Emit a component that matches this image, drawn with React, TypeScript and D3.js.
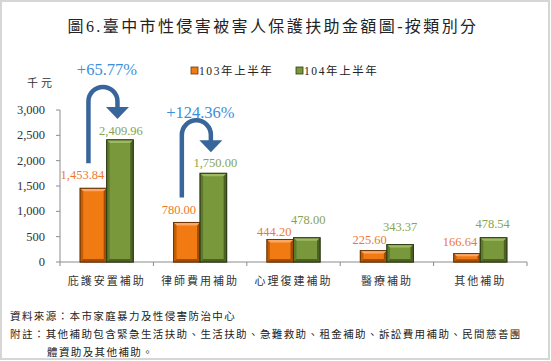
import React from 'react';
import * as d3 from 'd3';

// data
const categories = ['庇護安置補助', '律師費用補助', '心理復建補助', '醫療補助', '其他補助'];
const seriesNames = ['103年上半年', '104年上半年'];
const values103 = [1453.84, 780.0, 444.2, 225.6, 166.64];
const values104 = [2409.96, 1750.0, 478.0, 343.37, 478.54];
const yTicks = [0, 500, 1000, 1500, 2000, 2500, 3000];
// arrows drawn for these category indexes
const arrowCats = [0, 1];

const W = 551;
const H = 361;
const plot = { left: 60, right: 527, top: 110, bottom: 262 };

const serif = '"Liberation Serif", "Times New Roman", "Noto Sans CJK TC", serif';
const cjk = '"Liberation Serif", "Noto Sans CJK TC", sans-serif';

const palette = [
  { main: '#F27A12', light: '#F9A865', dark: '#C45E06', darker: '#A24C04', line: '#6E3604', label: '#EC7A2C' },
  { main: '#79983C', light: '#9DBA63', dark: '#5F7A2C', darker: '#4C6222', line: '#2E3B14', label: '#88A450' },
];

// hand-placed label nudges (layout only): [dx, rise above bar top]
const labelNudge = [
  [[-11, 13], [-8, 12.5], [-6, 7.5], [-4, 10.5], [-7, 11.5]],
  [[1, 9], [2, 10], [1.5, 18], [0, 17.5], [-1, 14]],
];
const annDy = [-17, -8];

function Bar({ x, y, w, h, c }: { x: number; y: number; w: number; h: number; c: typeof palette[0] }) {
  const b = Math.min(3, h / 3);
  return (
    <g>
      <rect x={x} y={y} width={w} height={h} fill={c.main} stroke={c.line} strokeWidth={1} />
      <polygon points={`${x},${y} ${x + w},${y} ${x + w - b},${y + b} ${x + b},${y + b}`} fill={c.light} />
      <polygon points={`${x},${y} ${x + b},${y + b} ${x + b},${y + h - b} ${x},${y + h}`} fill={c.dark} />
      <polygon points={`${x + w},${y} ${x + w - b},${y + b} ${x + w - b},${y + h - b} ${x + w},${y + h}`} fill={c.darker} />
      <polygon points={`${x},${y + h} ${x + b},${y + h - b} ${x + w - b},${y + h - b} ${x + w},${y + h}`} fill={c.darker} />
      <rect x={x} y={y} width={w} height={h} fill="none" stroke={c.line} strokeWidth={1} />
    </g>
  );
}

export default function App() {
  const x0 = d3.scaleBand<string>().domain(categories).range([plot.left, plot.right]).padding(0);
  const x1 = d3.scaleBand<string>().domain(seriesNames).range([0, x0.bandwidth()]).paddingInner(0).paddingOuter(0.76);
  const y = d3.scaleLinear().domain([0, 3000]).range([plot.bottom, plot.top]);
  const fmt = d3.format(',.2f');
  const series = [values103, values104];

  return (
    <svg width={W} height={H} style={{ position: 'absolute', left: 0, top: 0, background: '#fff' }}>
      <rect x={1} y={1} width={W - 3} height={H - 3} fill="#fff" stroke="#D6D6D6" strokeWidth={2} />

      <text x={273} y={26} textAnchor="middle" dominantBaseline="central" fontFamily={cjk} fontSize={16} letterSpacing={2.4} fill="#222">
        圖6.臺中市性侵害被害人保護扶助金額圖-按類別分
      </text>

      {/* legend */}
      {seriesNames.map((s, i) => {
        const lx = i === 0 ? 191 : 296;
        return (
          <g key={s}>
            <rect x={lx} y={67} width={7} height={7} fill={palette[i].main} stroke={palette[i].line} strokeWidth={0.8} />
            <text x={lx + 8} y={70.5} dominantBaseline="central" fontFamily={cjk} fontSize={11.5} letterSpacing={1.6} fill="#222">
              {s}
            </text>
          </g>
        );
      })}

      <text x={27} y={83} dominantBaseline="central" fontFamily={cjk} fontSize={11} letterSpacing={3} fill="#333">
        千元
      </text>

      {/* y axis */}
      <line x1={plot.left} x2={plot.left} y1={plot.top} y2={plot.bottom} stroke="#8C8C8C" />
      {yTicks.map(t => (
        <g key={t}>
          <line x1={plot.left - 4} x2={plot.left} y1={y(t)} y2={y(t)} stroke="#8C8C8C" />
          <text x={45} y={y(t)} textAnchor="end" dominantBaseline="central" fontFamily={serif} fontSize={12.5} fill="#333">
            {d3.format(',')(t)}
          </text>
        </g>
      ))}

      {/* x axis */}
      <line x1={plot.left} x2={plot.right} y1={plot.bottom} y2={plot.bottom} stroke="#8C8C8C" />
      {[...categories.map(c => x0(c)!), plot.right].map((tx, i) => (
        <line key={i} x1={tx} x2={tx} y1={plot.bottom} y2={plot.bottom + 4} stroke="#8C8C8C" />
      ))}
      {categories.map(c => (
        <text key={c} x={x0(c)! + x0.bandwidth() / 2} y={281} textAnchor="middle" dominantBaseline="central" fontFamily={cjk} fontSize={11} letterSpacing={2} fill="#333">
          {c}
        </text>
      ))}

      {/* bars */}
      {categories.map((c, ci) =>
        series.map((vals, si) => {
          const bx = x0(c)! + x1(seriesNames[si])!;
          const by = y(vals[ci]);
          return <Bar key={c + si} x={bx} y={by} w={x1.bandwidth()} h={plot.bottom - by} c={palette[si]} />;
        })
      )}

      {/* data labels */}
      {categories.map((c, ci) =>
        series.map((vals, si) => {
          const [dx, rise] = labelNudge[si][ci];
          const cx = x0(c)! + x1(seriesNames[si])! + x1.bandwidth() / 2 + dx;
          return (
            <text key={'l' + c + si} x={cx} y={y(vals[ci]) - rise} textAnchor="middle" dominantBaseline="central" fontFamily={serif} fontSize={12.5} fill={palette[si].label}>
              {fmt(vals[ci])}
            </text>
          );
        })
      )}

      {/* growth arrows */}
      {arrowCats.map((ci, k) => {
        const c = categories[ci];
        const sx = x0(c)! + x1(seriesNames[0])! + x1.bandwidth() / 2 - 5;
        const ex = x0(c)! + x1(seriesNames[1])! + x1.bandwidth() / 2 - 2.5;
        const sy = y(values103[ci]) - 25;
        const top = y(values104[ci]) - 53;
        const tip = y(values104[ci]) - 21;
        const r = (ex - sx) / 2;
        const pct = (values104[ci] / values103[ci] - 1) * 100;
        return (
          <g key={'a' + ci}>
            <path d={`M${sx},${sy} L${sx},${top + r} A${r},${r} 0 0 1 ${ex},${top + r} L${ex},${tip - 10}`} fill="none" stroke="#38669A" strokeWidth={4.5} />
            <polygon points={`${ex - 11.5},${tip - 12} ${ex + 11.5},${tip - 12} ${ex},${tip}`} fill="#38669A" />
            <text x={(sx + ex) / 2 + 4} y={top + annDy[k]} textAnchor="middle" dominantBaseline="central" fontFamily={serif} fontSize={16.5} fill="#3B8FD9">
              {'+' + pct.toFixed(2) + '%'}
            </text>
          </g>
        );
      })}

      {/* notes */}
      <g fontFamily={cjk} fontSize={10.5} letterSpacing={1.4} fill="#222">
        <text x={10} y={316} dominantBaseline="central">資料來源：本市家庭暴力及性侵害防治中心</text>
        <text x={10} y={334} dominantBaseline="central">附註：其他補助包含緊急生活扶助、生活扶助、急難救助、租金補助、訴訟費用補助、民間慈善團</text>
        <text x={47} y={352} dominantBaseline="central">體資助及其他補助。</text>
      </g>
    </svg>
  );
}
